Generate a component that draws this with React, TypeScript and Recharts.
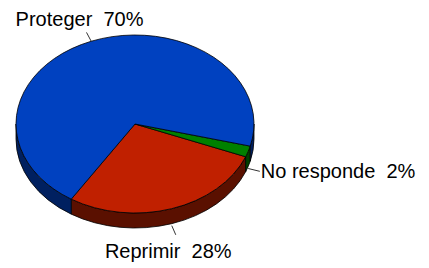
import { PieChart, Pie, Cell } from "recharts";

const categories = ["Reprimir", "No responde", "Proteger"];
const shares = [28, 2, 70];
const labels = ["Reprimir  28%", "No responde  2%", "Proteger  70%"];
const topColors = ["#C02000", "#008000", "#0041C0"];
const sideColors = ["#5A1000", "#004000", "#002060"];

const data = categories.map((name, i) => ({ name, value: shares[i] }));

// tilt of the pie: vertical radius / horizontal radius, and wall height
const K = 89 / 119;
const DEPTH = 15;
const RAD = Math.PI / 180;

function pt(cx: number, cy: number, r: number, a: number, dy = 0) {
  return [cx + r * Math.cos(a * RAD), cy - r * K * Math.sin(a * RAD) + dy];
}

function Slice3D(props: any) {
  const { cx, cy, outerRadius: r, startAngle, endAngle, fill } = props;
  const s = Math.min(startAngle, endAngle);
  const e = Math.max(startAngle, endAngle);
  const idx = categories.indexOf(props.payload?.name ?? props.name);
  const side = sideColors[idx] ?? "#000";
  const ry = r * K;

  // front walls: the parts of the arc in the lower half
  const walls: string[] = [];
  for (let n = -1; n <= 2; n++) {
    const lo = Math.max(s, -180 + 360 * n);
    const hi = Math.min(e, 360 * n);
    if (hi > lo) {
      const [x1, y1] = pt(cx, cy, r, lo);
      const [x2, y2] = pt(cx, cy, r, hi);
      walls.push(
        `M${x1},${y1} A${r},${ry} 0 0 0 ${x2},${y2} L${x2},${y2 + DEPTH} A${r},${ry} 0 0 1 ${x1},${y1 + DEPTH} Z`
      );
    }
  }
  const [ax, ay] = pt(cx, cy, r, s);
  const [bx, by] = pt(cx, cy, r, e);
  const large = e - s > 180 ? 1 : 0;
  const top = `M${cx},${cy} L${ax},${ay} A${r},${ry} 0 ${large} 0 ${bx},${by} Z`;

  return (
    <g>
      {walls.map((d, i) => (
        <path key={i} d={d} fill={side} stroke="#000" strokeWidth={0.8} />
      ))}
      <path d={top} fill={fill} stroke="#000" strokeWidth={0.8} />
    </g>
  );
}

function renderLabel(props: any) {
  const { cx, cy, midAngle, outerRadius: r, index } = props;
  const c = Math.cos(midAngle * RAD);
  const s = Math.sin(midAngle * RAD);
  const front = s < 0;
  const [x0, y0] = pt(cx, cy, r, midAngle, front ? DEPTH + 2 : 0);
  let dx = c;
  let dy = -s * K;
  const n = Math.hypot(dx, dy);
  dx /= n;
  dy /= n;
  const len = c > 0.7 ? 12 : 10;
  const x1 = x0 + dx * len;
  const y1 = y0 + dy * len;

  let tx = x1 - 7;
  let ty = y1 - 6.5;
  let anchor: "start" | "middle" = "middle";
  if (c > 0.7) {
    tx = x1 + 1;
    ty = y1 + 7;
    anchor = "start";
  } else if (front) {
    tx = x1 - 7.5;
    ty = y1 + 23;
  }

  return (
    <g>
      <line x1={x0} y1={y0} x2={x1} y2={y1} stroke="#000" strokeWidth={0.8} />
      <text
        x={tx}
        y={ty}
        textAnchor={anchor}
        fill="#000"
        fontSize={20}
        fontFamily="'Liberation Sans', Arial, sans-serif"
        style={{ whiteSpace: "pre" }}
      >
        {labels[index]}
      </text>
    </g>
  );
}

export default function App() {
  return (
    <div style={{ position: "absolute", left: 0, top: 0, background: "#fff" }}>
      <PieChart width={429} height={268} margin={{ top: 0, right: 0, bottom: 0, left: 0 }}>
        <Pie
          data={data}
          dataKey="value"
          nameKey="name"
          cx={135}
          cy={124}
          innerRadius={0}
          outerRadius={119}
          startAngle={-122.4}
          endAngle={237.6}
          stroke="none"
          shape={Slice3D}
          label={renderLabel}
          labelLine={false}
          isAnimationActive={false}
        >
          {data.map((d, i) => (
            <Cell key={d.name} fill={topColors[i]} />
          ))}
        </Pie>
      </PieChart>
    </div>
  );
}
